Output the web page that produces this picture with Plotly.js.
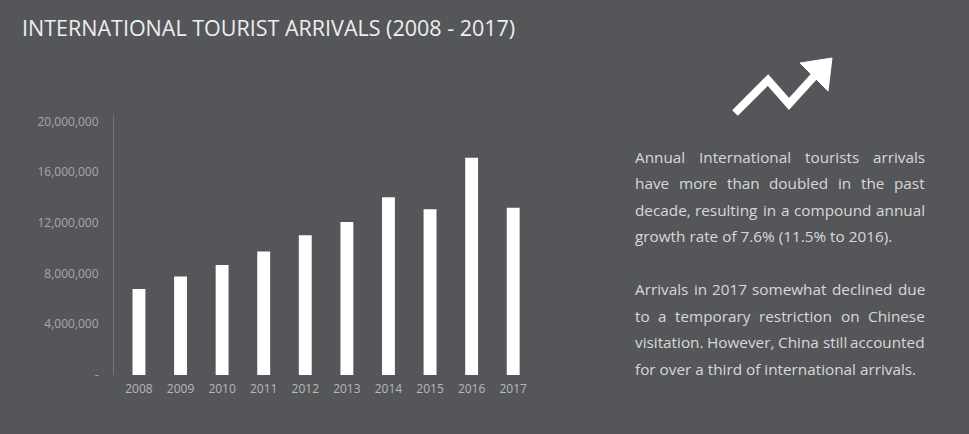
<!DOCTYPE html>
<html><head><meta charset="utf-8">
<script src="https://cdn.plot.ly/plotly-3.0.1.min.js"></script>
<style>html,body{margin:0;padding:0;background:#55565a;}#chart{width:969px;height:434px;}</style>
</head><body><div id="chart"></div>
<script>
const years = ['2008','2009','2010','2011','2012','2013','2014','2015','2016','2017'];
const arrivals = [6790000, 7760000, 8680000, 9730000, 11020000, 12070000, 14020000, 13070000, 17120000, 13180000];
const yTickVals = [0, 4000000, 8000000, 12000000, 16000000, 20000000];
const yTickText = ['-', '4,000,000', '8,000,000', '12,000,000', '16,000,000', '20,000,000'];
const titleText = 'INTERNATIONAL TOURIST ARRIVALS (2008 - 2017)';
const para1 = ['Annual International tourists arrivals', 'have more than doubled in the past', 'decade, resulting in a compound annual', 'growth rate of 7.6% (11.5% to 2016).'];
const para2 = ['Arrivals in 2017 somewhat declined due', 'to a temporary restriction on Chinese', 'visitation. However, China still accounted', 'for over a third of international arrivals.'];

const L = 114, T = 115, W = 420, H = 260;
const px = x => (x - L) / W;
const py = y => (T + H - y) / H;

const FONT = '"Open Sans", sans-serif';
const textSize = 15.3;
const ctx = document.createElement('canvas').getContext('2d');
ctx.font = textSize + 'px "Open Sans"';

const annotations = [];
function addLine(line, y, justify) {
  const left = 633, right = 923;
  const words = line.split(' ');
  if (!justify || words.length < 2) {
    annotations.push({text: line, xref: 'paper', yref: 'paper', x: px(left), y: py(y), xanchor: 'left', yanchor: 'middle', showarrow: false, font: {family: FONT, size: textSize, color: '#d8d8d8'}});
    return;
  }
  const widths = words.map(w => ctx.measureText(w).width);
  const total = widths.reduce((a, b) => a + b, 0);
  const gap = (right - left - total) / (words.length - 1);
  let x = left;
  words.forEach((w, i) => {
    annotations.push({text: w, xref: 'paper', yref: 'paper', x: px(x), y: py(y), xanchor: 'left', yanchor: 'middle', showarrow: false, font: {family: FONT, size: textSize, color: '#d8d8d8'}});
    x += widths[i] + gap;
  });
}
const ys1 = [157, 183, 209.5, 236];
const ys2 = [289, 315.5, 342, 368.5];
para1.forEach((l, i) => addLine(l, ys1[i], i < para1.length - 1));
para2.forEach((l, i) => addLine(l, ys2[i], i < para2.length - 1));

annotations.push({text: titleText, xref: 'paper', yref: 'paper', x: px(20), y: py(27), xanchor: 'left', yanchor: 'middle', showarrow: false, font: {family: FONT, size: 21.5, color: '#eeeeee'}});

const shapes = [
  {type: 'path', xref: 'paper', yref: 'paper',
   path: `M ${px(735)} ${py(113)} L ${px(768)} ${py(80)} L ${px(789)} ${py(104)} L ${px(818)} ${py(72)}`,
   line: {color: '#ffffff', width: 8}},
  {type: 'path', xref: 'paper', yref: 'paper',
   path: `M ${px(832)} ${py(58)} L ${px(800)} ${py(63)} L ${px(828)} ${py(91)} Z`,
   fillcolor: '#ffffff', line: {color: '#ffffff', width: 1}}
];

const data = [{
  type: 'bar', x: years, y: arrivals,
  marker: {color: '#ffffff'}, hoverinfo: 'x+y'
}];

const layout = {
  width: 969, height: 434,
  paper_bgcolor: '#55565a', plot_bgcolor: '#55565a',
  margin: {l: L, r: 969 - L - W, t: T, b: 434 - T - H, pad: 0},
  bargap: 0.69,
  showlegend: false,
  xaxis: {
    type: 'category', range: [-0.6, 9.5], showgrid: false, zeroline: false,
    showline: false, ticks: '', ticklabelstandoff: 5,
    tickfont: {family: FONT, size: 12, color: '#b8b8b8'},
    fixedrange: true
  },
  yaxis: {
    range: [0, 20500000], showgrid: false, zeroline: false,
    showline: true, linecolor: '#77787c', linewidth: 1,
    ticks: '', tickvals: yTickVals, ticktext: yTickText,
    ticklabelstandoff: 12,
    tickfont: {family: FONT, size: 12, color: '#a8a8a8'}, fixedrange: true
  },
  annotations: annotations,
  shapes: shapes
};
Plotly.newPlot('chart', data, layout, {displayModeBar: false, staticPlot: true});
</script>
</body></html>
